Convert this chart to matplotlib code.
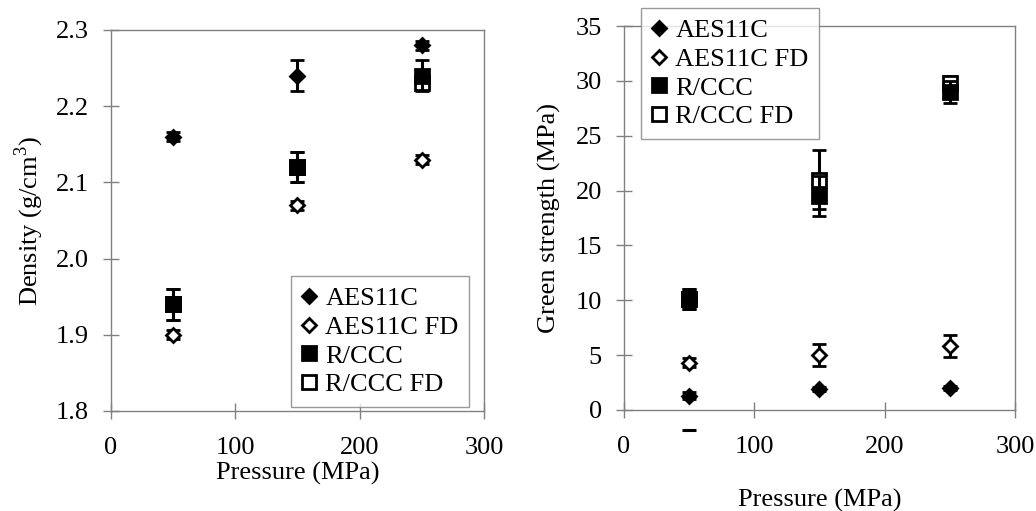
import numpy as np
import matplotlib
matplotlib.use("Agg")
import matplotlib.pyplot as plt

plt.rcParams['font.family'] = ['Liberation Serif', 'DejaVu Serif']
plt.rcParams['mathtext.fontset'] = 'custom'
plt.rcParams['mathtext.rm'] = 'Liberation Serif'

pressure = [50, 150, 250]

# left panel: density (g/cm3)
dens_aes = [2.16, 2.24, 2.28]
dens_aes_err = [0.006, 0.02, 0.006]
dens_aes_fd = [1.90, 2.07, 2.13]
dens_aes_fd_err = [0.006, 0.006, 0.006]
dens_rccc = [1.94, 2.12, 2.24]
dens_rccc_err = [0.02, 0.02, 0.02]
dens_rccc_fd = [1.94, 2.12, 2.23]
dens_rccc_fd_err = [0.02, 0.02, 0.005]

# right panel: green strength (MPa)
gs_aes = [1.3, 1.9, 2.0]
gs_aes_err = [0.3, 0.2, 0.2]
gs_aes_lowcap = -1.8   # lower cap of first point, drawn below the axis
gs_aes_fd = [4.3, 5.0, 5.8]
gs_aes_fd_err = [0.4, 1.0, 1.0]
gs_rccc = [10.1, 19.5, 29.0]
gs_rccc_err = [0.9, 1.8, 1.0]
gs_rccc_fd = [10.1, 21.0, 29.8]
gs_rccc_fd_err = [0.9, 2.7, 0.6]

labels = ['AES11C', 'AES11C FD', 'R/CCC', 'R/CCC FD']
FS = 19

fig = plt.figure(figsize=(10.36, 5.11), dpi=100)
ax1 = fig.add_axes([0.1071, 0.1957, 0.3601, 0.7456])
ax2 = fig.add_axes([0.6023, 0.1977, 0.3774, 0.7514])


def draw(ax, series):
    handles = []
    for y, e, mk, ms, face, z in series:
        eb = ax.errorbar(pressure, y, yerr=e, fmt=mk, ms=ms, mfc=face, mec='black',
                         mew=2, ecolor='black', elinewidth=2.2, capsize=5,
                         capthick=2.2, zorder=z)
        handles.append(eb[0])
    return handles


sty = [('D', 7.5, 'black', 6), ('D', 7.5, 'white', 5),
       ('s', 10.5, 'black', 4), ('s', 10.5, 'white', 3)]

h1 = draw(ax1, [(d, e) + s for (d, e), s in zip(
    [(dens_aes, dens_aes_err), (dens_aes_fd, dens_aes_fd_err),
     (dens_rccc, dens_rccc_err), (dens_rccc_fd, dens_rccc_fd_err)], sty)])
h2 = draw(ax2, [(d, e) + s for (d, e), s in zip(
    [(gs_aes, gs_aes_err), (gs_aes_fd, gs_aes_fd_err),
     (gs_rccc, gs_rccc_err), (gs_rccc_fd, gs_rccc_fd_err)], sty)])
ax2.plot([pressure[0]], [gs_aes_lowcap], marker='_', ms=10, mew=2.2,
         color='black', clip_on=False)

for ax in (ax1, ax2):
    ax.set_xlim(0, 300)
    ax.set_xticks([0, 100, 200, 300])
    for s in ax.spines.values():
        s.set_color('#808080')
        s.set_linewidth(1)
    ax.tick_params(direction='inout', length=12, width=1, color='#808080',
                   labelsize=FS)
    ax.tick_params(axis='y', pad=10)
    ax.tick_params(axis='x', pad=13)

ax1.set_ylim(1.8, 2.3)
ax1.set_yticks(np.arange(1.8, 2.31, 0.1))
ax1.set_yticklabels(['1.8', '1.9', '2.0', '2.1', '2.2', '2.3'])
ax1.set_xlabel('Pressure (MPa)', fontsize=FS, labelpad=2)
ax1.set_ylabel('Density (g/cm$^3$)', fontsize=FS, labelpad=7)

ax2.set_ylim(0, 35)
ax2.set_yticks(range(0, 36, 5))
ax2.set_xlabel('Pressure (MPa)', fontsize=FS, labelpad=22)
ax2.set_ylabel('Green strength (MPa)', fontsize=FS, labelpad=10)

for ax, h, loc, anchor in ((ax1, h1, 'lower left', (0.2809, 0.2035)),
                           (ax2, h2, 'upper left', (0.6187, 0.9843))):
    leg = ax.legend(h, labels, loc=loc, bbox_to_anchor=anchor,
                    bbox_transform=fig.transFigure, fontsize=FS, frameon=True,
                    fancybox=False, borderaxespad=0, handlelength=0.6,
                    handletextpad=0.3, labelspacing=0.2, borderpad=0.4,
                    numpoints=1)
    leg.get_frame().set_edgecolor('#808080')
    leg.get_frame().set_linewidth(1)
    leg.set_zorder(10)

fig.savefig('out.png', dpi=100)
